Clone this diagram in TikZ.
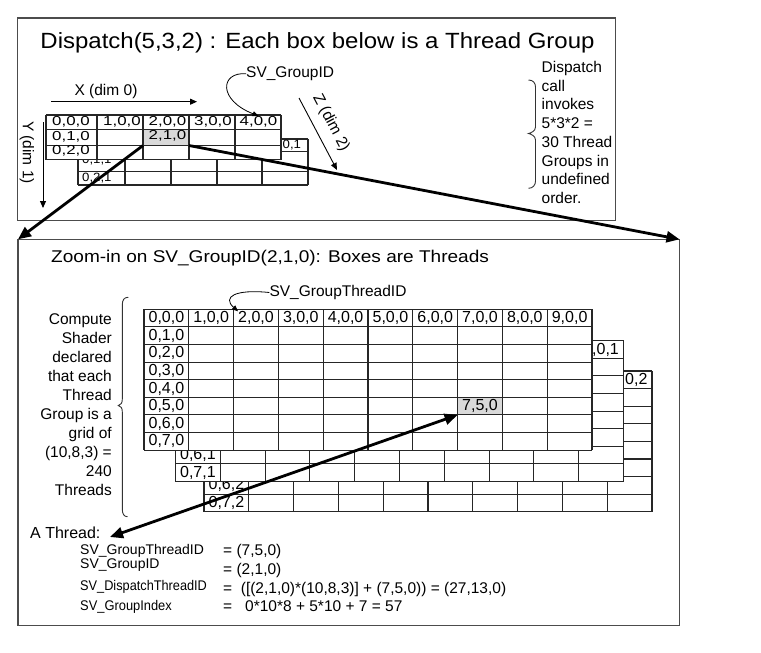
\documentclass[tikz,border=0pt]{standalone}
\usepackage{fontspec}
\usepackage{graphicx}
\setmainfont{Liberation Sans}
\usetikzlibrary{arrows.meta}
\newcommand\hsc[2]{\scalebox{#1}[1]{#2}}
\begin{document}
\begin{tikzpicture}[x=1pt,y=-1pt,
  box/.style={draw=black!70, line width=1.3pt, inner sep=0pt, outer sep=0pt, anchor=north west},
  gl/.style={draw=black!85, line width=1.1pt},
  cell/.style={fill=black!15, draw=none, inner sep=0pt, outer sep=0pt, anchor=north west},
  lab/.style={inner sep=0pt, font=\fontsize{16}{18}\selectfont},
  tlab/.style={inner sep=0pt, anchor=west, font=\fontsize{13}{15}\selectfont},
  blab/.style={inner sep=0pt, anchor=west, font=\fontsize{12}{14}\selectfont},
  txt/.style={inner sep=0pt, font=\fontsize{15.5}{18}\selectfont},
  small/.style={inner sep=0pt, anchor=base west, font=\fontsize{14}{16}\selectfont},
  big/.style={line width=2.8pt, -{Triangle[length=13pt,width=11pt]}},
  bigboth/.style={line width=2.8pt, {Triangle[length=13pt,width=11pt]}-{Triangle[length=13pt,width=11pt]}},
  thin/.style={line width=0.9pt, -{Triangle[length=7pt,width=6pt]}},
  curv/.style={line width=0.8pt, -{Triangle[length=6pt,width=5pt]}},
  brc/.style={line width=0.9pt, draw=black!80},
]
\useasboundingbox[fill=white] (0,0) rectangle (761,653);

% outer boxes
\node[box, minimum width=598pt, minimum height=202.5pt] (topbox) at (17.5,18) {};
\node[box, minimum width=661.5pt, minimum height=386pt] (lowbox) at (18,239.3) {};

% ---------- top box ----------
\node[inner sep=0pt, anchor=base, font=\fontsize{22}{26}\selectfont] (title1) at (317.5,48.5)
  {\hsc{1.09}{Dispatch(5,3,2) : Each box below is a Thread Group}};

\node[txt, anchor=base west] (sgid) at (246,77.5) {SV\_GroupID};
\node[txt, anchor=base] (xlab) at (106,95) {X (dim 0)};
\coordinate (xa) at (51,101.7);
\coordinate (xb) at (197,101.7);
\draw[thin] (xa) -- (xb);
\node[txt, rotate=-90] (ylab) at (27,152.5) {Y (dim 1)};
\coordinate (ya) at (43,122);
\coordinate (yb) at (43,208);
\draw[thin] (ya) -- (yb);
\coordinate (za) at (299,98);
\coordinate (zb) at (337,170);
\draw[thin] (za) -- (zb);
\node[txt, rotate=-62.2] (zlab) at (331,123) {Z (dim 2)};

\foreach \t [count=\i from 0] in {Dispatch,call,invokes,{5*3*2 =},30 Thread,Groups in,undefined,order.}
  \node[txt, anchor=base west] (dt\i) at (541.5,{72.5+18.7*\i}) {\t};
\draw[brc] (528.5,80) .. controls (533,80) and (535.5,83) .. (535.5,87) -- (535.5,127)
  .. controls (535.5,131) and (531,133) .. (528.5,133.5)
  .. controls (531,134) and (535.5,136) .. (535.5,140) -- (535.5,181)
  .. controls (535.5,185) and (533,188.3) .. (528.5,188.3);

% top grid, layer z=1
\fill[white] (78,139) rectangle (308,185);
\foreach \x in {78,125,171,217,262,308} \draw[gl] (\x,139) -- (\x,185);
\foreach \y in {139,151.5,171.5,185} \draw[gl] (78,\y) -- (308,\y);
\node[blab] (t401) at (271.5,145.3) {\hsc{1.1}{4,0,1}};
\node[blab] (t011) at (82,160.5) {\hsc{1.1}{0,1,1}};
\node[blab] (t021) at (82,178.3) {\hsc{1.1}{0,2,1}};

% top grid, layer z=0
\fill[white] (46,115) rectangle (281,159.5);
\node[cell, minimum width=46pt, minimum height=16pt] (g210) at (143,129.5) {};
\foreach \x in {46,97,143,189,235,281} \draw[gl] (\x,115) -- (\x,159.5);
\foreach \y in {115,129.5,145.5,159.5} \draw[gl] (46,\y) -- (281,\y);
\node[tlab] (t000) at (52,121.5) {\hsc{1.3}{0,0,0}};
\node[tlab] (t100) at (103,121.5) {\hsc{1.3}{1,0,0}};
\node[tlab] (t200) at (148.5,121.5) {\hsc{1.3}{2,0,0}};
\node[tlab] (t300) at (194,121.5) {\hsc{1.3}{3,0,0}};
\node[tlab] (t400) at (239.5,121.5) {\hsc{1.3}{4,0,0}};
\node[tlab] (t010) at (52,136.3) {\hsc{1.3}{0,1,0}};
\node[tlab] (t210) at (148.5,135.5) {\hsc{1.3}{2,1,0}};
\node[tlab] (t020) at (52,150.5) {\hsc{1.3}{0,2,0}};

\draw[curv] (sgid.west) .. controls (220,72) and (218,100) .. (t400.north);

% ---------- lower box ----------
\node[inner sep=0pt, anchor=base west, font=\fontsize{17}{20}\selectfont] (title2) at (51,262.7)
  {\hsc{1.12}{Zoom-in on SV\_GroupID(2,1,0): Boxes are Threads}};
\node[txt, anchor=base west] (sgt) at (269.3,296.5) {SV\_GroupThreadID};

\foreach \t [count=\i from 0] in {Compute,Shader,declared,that each,Thread,Group is a,grid of,{(10,8,3) =},240,Threads}
  \node[txt, anchor=base east] (cs\i) at (112,{324+19*\i}) {\t};
\draw[brc] (128.3,297.3) .. controls (124,297.3) and (122.3,300) .. (122.3,305) -- (122.3,399)
  .. controls (122.3,403) and (121,405) .. (118.3,405.5)
  .. controls (121,406) and (122.3,408) .. (122.3,412) -- (122.3,509)
  .. controls (122.3,514) and (124,516.7) .. (127.5,516.7);

% layer z=2
\begin{scope}[shift={(204,371)}]
  \fill[white] (0,0) rectangle (448,140.8);
  \foreach \i in {0,...,10} \draw[gl] ({44.8*\i},0) -- ({44.8*\i},140.8);
  \foreach \j in {0,...,8} \draw[gl] (0,{17.6*\j}) -- (448,{17.6*\j});
  \node[lab] (l902) at (425.6,8.8) {9,0,2};
  \node[lab] (l062) at (22.4,114.4) {0,6,2};
  \node[lab] (l072) at (22.4,132) {0,7,2};
\end{scope}
% layer z=1
\begin{scope}[shift={(175.5,340.7)}]
  \fill[white] (0,0) rectangle (448,140.8);
  \foreach \i in {0,...,10} \draw[gl] ({44.8*\i},0) -- ({44.8*\i},140.8);
  \foreach \j in {0,...,8} \draw[gl] (0,{17.6*\j}) -- (448,{17.6*\j});
  \node[lab] (l901) at (425.6,8.8) {9,0,1};
  \node[lab] (l061) at (22.4,114.4) {0,6,1};
  \node[lab] (l071) at (22.4,132) {0,7,1};
\end{scope}
% layer z=0
\begin{scope}[shift={(144,309.3)}]
  \fill[white] (0,0) rectangle (448,140.8);
  \node[cell, minimum width=44.8pt, minimum height=17.6pt] (g750) at (313.6,88) {};
  \foreach \i in {0,...,10} \draw[gl] ({44.8*\i},0) -- ({44.8*\i},140.8);
  \foreach \j in {0,...,8} \draw[gl] (0,{17.6*\j}) -- (448,{17.6*\j});
  \foreach \c in {0,...,9} \node[lab] (h\c) at ({44.8*\c+22.4},8.8) {\c,0,0};
  \foreach \r in {1,...,7} \node[lab] (v\r) at (22.4,{17.6*\r+8.8}) {0,\r,0};
  \node[lab] (l750) at (336,96.8) {7,5,0};
\end{scope}

\draw[curv] (sgt.west) .. controls (235,289) and (222,297) .. (h2.north west);

\node[inner sep=0pt, anchor=base west, font=\fontsize{16}{18}\selectfont] (athread) at (30,538) {A Thread:};
\coordinate (athr) at (110,537);

\node[small] (k1) at (80,554) {SV\_GroupThreadID};
\node[small] (k2) at (80,568.3) {SV\_GroupID};
\node[small] (k3) at (80,590) {\hsc{0.91}{SV\_DispatchThreadID}};
\node[small] (k4) at (80,610) {\hsc{0.92}{SV\_GroupIndex}};
\node[txt, anchor=base west] (e1) at (223,555) {= (7,5,0)};
\node[txt, anchor=base west] (e2) at (223,574) {= (2,1,0)};
\node[txt, anchor=base west] (e3) at (223,593.3) {=\ \ ([(2,1,0)*(10,8,3)] + (7,5,0)) = (27,13,0)};
\node[txt, anchor=base west] (e4) at (223,611.7) {=\ \ \ 0*10*8 + 5*10 + 7 = 57};

% ---------- thick arrows ----------
\draw[big] (g210.south west) -- (lowbox.north west);
\draw[big] (g210.south east) -- (lowbox.north east);
\draw[bigboth] (athr) -- (g750.south west);
\end{tikzpicture}
\end{document}
